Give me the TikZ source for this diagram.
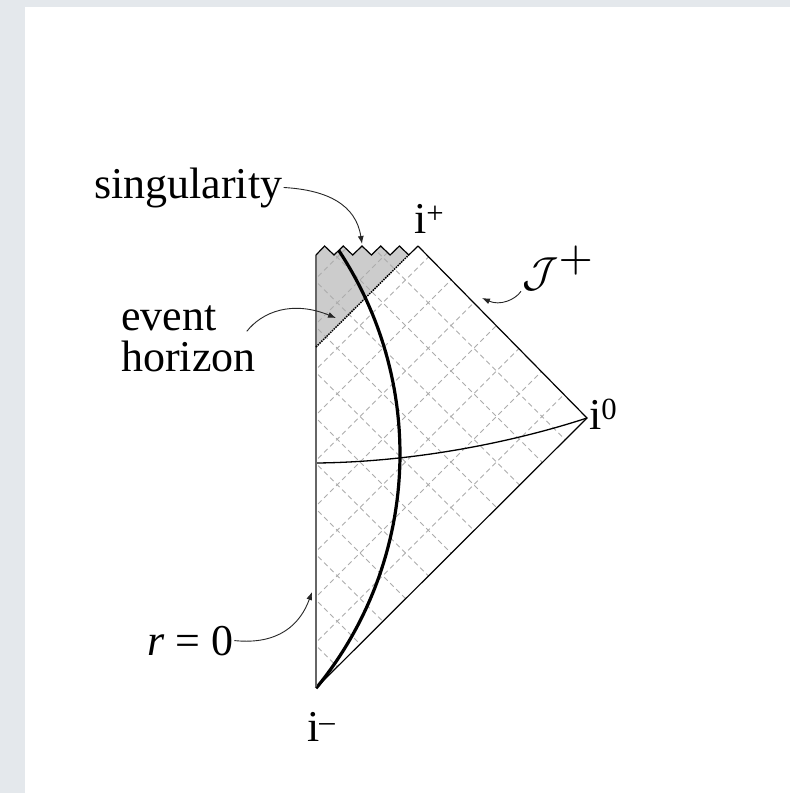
\documentclass[tikz,border=0pt]{standalone}
\usepackage{fontspec}
\setmainfont{Liberation Serif}
\usetikzlibrary{arrows.meta,calc}

\definecolor{framegray}{RGB}{228,232,236}
\definecolor{gridgray}{RGB}{172,172,172}

\begin{document}
\begin{tikzpicture}[x=1pt,y=-1pt,>=Latex,
    txt/.style={inner sep=1pt,font=\fontsize{44}{41}\selectfont},
    pointer/.style={->,>={Latex[length=8pt,width=6pt]},line width=0.9pt,black!85},
    nullgrid/.style={gridgray,line width=0.8pt,dash pattern=on 5pt off 3.5pt},
    rim/.style={line width=1.2pt},
    worldline/.style={line width=3.2pt}]
    % page
    \useasboundingbox (0,0) rectangle (790,793);
    \fill[framegray] (0,0) rectangle (790,793);
    \fill[white] (25,7) rectangle (790,793);
    % corners of the diagram
    \coordinate (iminus) at (316,688);
    \coordinate (izero) at (587,418);
    \coordinate (iplus) at (418,246);
    \coordinate (corner) at (316,255);
    \coordinate (ehfoot) at (316,347);
    \coordinate (ehtop) at (408.7,255);
    \coordinate (slice) at (316,463);
    % trapped region
    \fill[gray!40] (ehfoot) -- (corner)
      \foreach \k in {0,...,4} { -- ({324.6+18.7*\k},246) -- ({334+18.7*\k},255) } -- cycle;
    % null grid
    \begin{scope}
      \clip (corner) \foreach \k in {0,...,4} { -- ({324.6+18.7*\k},246) -- ({334+18.7*\k},255) }
        -- (iplus) -- (izero) -- (iminus) -- cycle;
      \foreach \k in {1,...,9}
        \draw[nullgrid] (300,{1004-45.5*\k-300}) -- (620,{1004-45.5*\k-620});
      \foreach \k in {1,...,11}
        \draw[nullgrid] (300,{300-171+45.5*\k}) -- (620,{620-171+45.5*\k});
    \end{scope}
    % slice and star surface
    \draw[line width=1.3pt] (slice) .. controls (420,462) and (520,440) .. (izero);
    \draw[worldline] plot[domain=-33.5:39.4,samples=60] ({31+369*cos(\x)},{454+369*sin(\x)});
    % boundary
    \draw[rim,black!60] (corner) -- (iminus);
    \draw[rim] (iminus) -- (izero) -- (iplus);
    \draw[rim] (corner) \foreach \k in {0,...,4} { -- ({324.6+18.7*\k},246) -- ({334+18.7*\k},255) } -- (iplus);
    \draw[line width=1.5pt,densely dotted] (ehfoot) -- (ehtop);
    % labels
    \node[txt,anchor=base west] (sing) at (93,198) {singularity};
    \node[txt,anchor=north west,align=left] (evh) at (120,305) {event\\horizon};
    \node[txt,anchor=base west] (rzero) at (146,655) {\textit{r} = 0};
    \node[txt,anchor=base west] (lip) at (413,233) {i\textsuperscript{+}};
    \node[txt,anchor=base west] (lio) at (588,429) {i\textsuperscript{0}};
    \node[txt,anchor=base west] (lim) at (306,741) {i\textsuperscript{--}};
    \node[txt,anchor=base west] (scri) at (521,286)
      {\normalsize\scalebox{4.2}{$\mathcal{J}^{\scalebox{1.35}{$\scriptstyle+$}}$}};
    % pointers
    \coordinate (singtip) at (362,244);
    \coordinate (evhtip) at (336,318);
    \coordinate (scritip) at (482,298);
    \coordinate (rtip) at (312,592);
    \draw[pointer] (sing.east) .. controls (328,190) and (356,205) .. (singtip);
    \draw[pointer] ([shift={(-10,-8)}]evh.east) .. controls (262,312) and (292,300) .. (evhtip);
    \draw[pointer] (scri.south west) .. controls (515,300) and (500,306) .. (scritip);
    \draw[pointer] (rzero.east) .. controls (278,645) and (300,625) .. (rtip);
\end{tikzpicture}
\end{document}
